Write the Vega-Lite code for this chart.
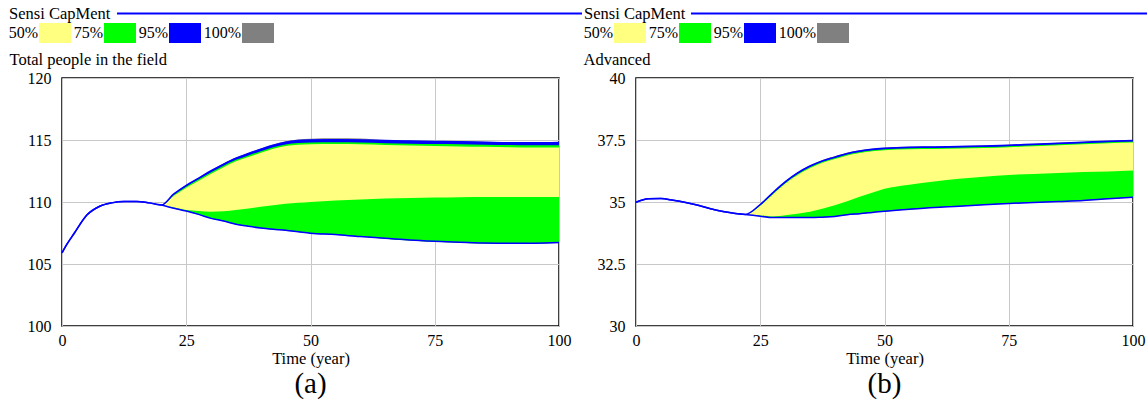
{
  "$schema": "https://vega.github.io/schema/vega-lite/v6.json",
  "padding": {"left": 8, "top": 6, "right": 0, "bottom": 0},
  "autosize": {"type": "pad"},
  "datasets": {
    "a": [
      {"t": 0, "l100": 105.9, "l95": 105.9, "l75": 105.9, "l50": 105.9, "h50": 105.9, "h75": 105.9, "h95": 105.9, "h100": 105.9},
      {"t": 1, "l100": 106.6, "l95": 106.6, "l75": 106.6, "l50": 106.6, "h50": 106.6, "h75": 106.6, "h95": 106.6, "h100": 106.6},
      {"t": 2.5, "l100": 107.5, "l95": 107.5, "l75": 107.5, "l50": 107.5, "h50": 107.5, "h75": 107.5, "h95": 107.5, "h100": 107.5},
      {"t": 5, "l100": 108.95, "l95": 108.95, "l75": 108.95, "l50": 108.95, "h50": 108.95, "h75": 108.95, "h95": 108.95, "h100": 108.95},
      {"t": 7.5, "l100": 109.64, "l95": 109.64, "l75": 109.64, "l50": 109.64, "h50": 109.64, "h75": 109.64, "h95": 109.64, "h100": 109.64},
      {"t": 10, "l100": 109.93, "l95": 109.93, "l75": 109.93, "l50": 109.93, "h50": 109.93, "h75": 109.93, "h95": 109.93, "h100": 109.93},
      {"t": 12.5, "l100": 110.04, "l95": 110.04, "l75": 110.04, "l50": 110.04, "h50": 110.04, "h75": 110.04, "h95": 110.04, "h100": 110.04},
      {"t": 15, "l100": 110.04, "l95": 110.04, "l75": 110.04, "l50": 110.04, "h50": 110.04, "h75": 110.04, "h95": 110.04, "h100": 110.04},
      {"t": 17.5, "l100": 109.93, "l95": 109.93, "l75": 109.93, "l50": 109.93, "h50": 109.93, "h75": 109.93, "h95": 109.93, "h100": 109.93},
      {"t": 20, "l100": 109.75, "l95": 109.75, "l75": 109.75, "l50": 109.75, "h50": 109.75, "h75": 109.75, "h95": 109.75, "h100": 109.75},
      {"t": 22.5, "l100": 109.48, "l95": 109.5, "l75": 109.52, "l50": 109.55, "h50": 110.5, "h75": 110.58, "h95": 110.65, "h100": 110.67},
      {"t": 25, "l100": 109.25, "l95": 109.27, "l75": 109.29, "l50": 109.35, "h50": 111.15, "h75": 111.25, "h95": 111.35, "h100": 111.38},
      {"t": 27.5, "l100": 108.98, "l95": 109.0, "l75": 109.02, "l50": 109.27, "h50": 111.72, "h75": 111.83, "h95": 111.93, "h100": 111.96},
      {"t": 30, "l100": 108.66, "l95": 108.68, "l75": 108.7, "l50": 109.21, "h50": 112.28, "h75": 112.4, "h95": 112.52, "h100": 112.56},
      {"t": 32.5, "l100": 108.45, "l95": 108.47, "l75": 108.49, "l50": 109.25, "h50": 112.8, "h75": 112.93, "h95": 113.06, "h100": 113.1},
      {"t": 35, "l100": 108.18, "l95": 108.2, "l75": 108.22, "l50": 109.35, "h50": 113.28, "h75": 113.4, "h95": 113.54, "h100": 113.58},
      {"t": 37.5, "l100": 108.02, "l95": 108.04, "l75": 108.06, "l50": 109.48, "h50": 113.63, "h75": 113.76, "h95": 113.91, "h100": 113.96},
      {"t": 40, "l100": 107.88, "l95": 107.9, "l75": 107.92, "l50": 109.61, "h50": 113.97, "h75": 114.1, "h95": 114.26, "h100": 114.31},
      {"t": 42.5, "l100": 107.78, "l95": 107.8, "l75": 107.82, "l50": 109.74, "h50": 114.3, "h75": 114.42, "h95": 114.58, "h100": 114.64},
      {"t": 45, "l100": 107.7, "l95": 107.72, "l75": 107.74, "l50": 109.85, "h50": 114.52, "h75": 114.64, "h95": 114.82, "h100": 114.9},
      {"t": 47.5, "l100": 107.58, "l95": 107.6, "l75": 107.62, "l50": 109.93, "h50": 114.62, "h75": 114.75, "h95": 114.95, "h100": 115.04},
      {"t": 50, "l100": 107.46, "l95": 107.48, "l75": 107.5, "l50": 110.0, "h50": 114.66, "h75": 114.8, "h95": 115.0, "h100": 115.1},
      {"t": 55, "l100": 107.35, "l95": 107.37, "l75": 107.39, "l50": 110.12, "h50": 114.68, "h75": 114.82, "h95": 115.02, "h100": 115.14},
      {"t": 60, "l100": 107.19, "l95": 107.21, "l75": 107.23, "l50": 110.2, "h50": 114.66, "h75": 114.8, "h95": 115.0, "h100": 115.13},
      {"t": 65, "l100": 107.03, "l95": 107.08, "l75": 107.04, "l50": 110.28, "h50": 114.6, "h75": 114.74, "h95": 114.95, "h100": 115.0},
      {"t": 70, "l100": 106.89, "l95": 106.94, "l75": 106.9, "l50": 110.33, "h50": 114.56, "h75": 114.7, "h95": 114.92, "h100": 114.96},
      {"t": 75, "l100": 106.79, "l95": 106.84, "l75": 106.8, "l50": 110.36, "h50": 114.52, "h75": 114.68, "h95": 114.88, "h100": 114.92},
      {"t": 80, "l100": 106.71, "l95": 106.76, "l75": 106.72, "l50": 110.39, "h50": 114.48, "h75": 114.66, "h95": 114.86, "h100": 114.9},
      {"t": 85, "l100": 106.65, "l95": 106.7, "l75": 106.66, "l50": 110.4, "h50": 114.45, "h75": 114.62, "h95": 114.82, "h100": 114.86},
      {"t": 90, "l100": 106.62, "l95": 106.68, "l75": 106.63, "l50": 110.4, "h50": 114.42, "h75": 114.6, "h95": 114.78, "h100": 114.82},
      {"t": 95, "l100": 106.63, "l95": 106.68, "l75": 106.64, "l50": 110.41, "h50": 114.4, "h75": 114.58, "h95": 114.77, "h100": 114.81},
      {"t": 100, "l100": 106.7, "l95": 106.73, "l75": 106.71, "l50": 110.41, "h50": 114.39, "h75": 114.57, "h95": 114.8, "h100": 114.84}
    ],
    "b": [
      {"t": 0, "l100": 34.99, "l95": 34.99, "l75": 34.99, "l50": 34.99, "h50": 34.99, "h75": 34.99, "h95": 34.99, "h100": 34.99},
      {"t": 2.5, "l100": 35.13, "l95": 35.13, "l75": 35.13, "l50": 35.13, "h50": 35.13, "h75": 35.13, "h95": 35.13, "h100": 35.13},
      {"t": 5, "l100": 35.14, "l95": 35.14, "l75": 35.14, "l50": 35.14, "h50": 35.14, "h75": 35.14, "h95": 35.14, "h100": 35.14},
      {"t": 7.5, "l100": 35.07, "l95": 35.07, "l75": 35.07, "l50": 35.07, "h50": 35.07, "h75": 35.07, "h95": 35.07, "h100": 35.07},
      {"t": 10, "l100": 34.98, "l95": 34.98, "l75": 34.98, "l50": 34.98, "h50": 34.98, "h75": 34.98, "h95": 34.98, "h100": 34.98},
      {"t": 12.5, "l100": 34.87, "l95": 34.87, "l75": 34.87, "l50": 34.87, "h50": 34.87, "h75": 34.87, "h95": 34.87, "h100": 34.87},
      {"t": 15, "l100": 34.73, "l95": 34.73, "l75": 34.73, "l50": 34.73, "h50": 34.73, "h75": 34.73, "h95": 34.73, "h100": 34.73},
      {"t": 17.5, "l100": 34.62, "l95": 34.62, "l75": 34.62, "l50": 34.62, "h50": 34.62, "h75": 34.62, "h95": 34.62, "h100": 34.62},
      {"t": 20, "l100": 34.54, "l95": 34.54, "l75": 34.54, "l50": 34.54, "h50": 34.54, "h75": 34.54, "h95": 34.54, "h100": 34.54},
      {"t": 22, "l100": 34.5, "l95": 34.5, "l75": 34.5, "l50": 34.5, "h50": 34.5, "h75": 34.5, "h95": 34.5, "h100": 34.5},
      {"t": 25, "l100": 34.42, "l95": 34.43, "l75": 34.44, "l50": 34.46, "h50": 34.85, "h75": 34.87, "h95": 34.9, "h100": 34.91},
      {"t": 27.5, "l100": 34.36, "l95": 34.37, "l75": 34.38, "l50": 34.42, "h50": 35.3, "h75": 35.33, "h95": 35.37, "h100": 35.38},
      {"t": 30, "l100": 34.36, "l95": 34.37, "l75": 34.38, "l50": 34.47, "h50": 35.74, "h75": 35.77, "h95": 35.81, "h100": 35.83},
      {"t": 32.5, "l100": 34.36, "l95": 34.37, "l75": 34.38, "l50": 34.53, "h50": 36.09, "h75": 36.13, "h95": 36.17, "h100": 36.19},
      {"t": 35, "l100": 34.36, "l95": 34.37, "l75": 34.38, "l50": 34.61, "h50": 36.37, "h75": 36.41, "h95": 36.45, "h100": 36.47},
      {"t": 37.5, "l100": 34.38, "l95": 34.39, "l75": 34.4, "l50": 34.73, "h50": 36.58, "h75": 36.62, "h95": 36.66, "h100": 36.69},
      {"t": 40, "l100": 34.41, "l95": 34.42, "l75": 34.43, "l50": 34.87, "h50": 36.73, "h75": 36.77, "h95": 36.81, "h100": 36.84},
      {"t": 42.5, "l100": 34.48, "l95": 34.49, "l75": 34.5, "l50": 35.03, "h50": 36.88, "h75": 36.92, "h95": 36.96, "h100": 36.99},
      {"t": 45, "l100": 34.52, "l95": 34.53, "l75": 34.54, "l50": 35.21, "h50": 36.98, "h75": 37.02, "h95": 37.06, "h100": 37.09},
      {"t": 47.5, "l100": 34.57, "l95": 34.58, "l75": 34.59, "l50": 35.37, "h50": 37.05, "h75": 37.09, "h95": 37.13, "h100": 37.15},
      {"t": 50, "l100": 34.62, "l95": 34.63, "l75": 34.64, "l50": 35.53, "h50": 37.09, "h75": 37.13, "h95": 37.17, "h100": 37.19},
      {"t": 55, "l100": 34.7, "l95": 34.71, "l75": 34.72, "l50": 35.7, "h50": 37.13, "h75": 37.17, "h95": 37.21, "h100": 37.23},
      {"t": 60, "l100": 34.77, "l95": 34.78, "l75": 34.79, "l50": 35.83, "h50": 37.14, "h75": 37.18, "h95": 37.22, "h100": 37.24},
      {"t": 65, "l100": 34.82, "l95": 34.83, "l75": 34.84, "l50": 35.94, "h50": 37.16, "h75": 37.2, "h95": 37.24, "h100": 37.26},
      {"t": 70, "l100": 34.88, "l95": 34.89, "l75": 34.9, "l50": 36.02, "h50": 37.18, "h75": 37.22, "h95": 37.26, "h100": 37.28},
      {"t": 75, "l100": 34.93, "l95": 34.94, "l75": 34.95, "l50": 36.09, "h50": 37.21, "h75": 37.25, "h95": 37.29, "h100": 37.31},
      {"t": 80, "l100": 34.97, "l95": 34.98, "l75": 34.99, "l50": 36.13, "h50": 37.25, "h75": 37.29, "h95": 37.33, "h100": 37.35},
      {"t": 85, "l100": 35.01, "l95": 35.02, "l75": 35.03, "l50": 36.17, "h50": 37.29, "h75": 37.33, "h95": 37.37, "h100": 37.39},
      {"t": 90, "l100": 35.05, "l95": 35.06, "l75": 35.07, "l50": 36.21, "h50": 37.33, "h75": 37.37, "h95": 37.41, "h100": 37.43},
      {"t": 95, "l100": 35.12, "l95": 35.13, "l75": 35.14, "l50": 36.23, "h50": 37.37, "h75": 37.41, "h95": 37.45, "h100": 37.47},
      {"t": 100, "l100": 35.18, "l95": 35.19, "l75": 35.2, "l50": 36.27, "h50": 37.4, "h75": 37.44, "h95": 37.48, "h100": 37.5}
    ]
  },
  "hconcat": [
    {
      "width": 497, "height": 248,
      "data": {"name": "a"},
      "title": {"text": "(a)", "orient": "bottom", "anchor": "middle", "fontSize": 29, "fontWeight": "normal", "font": "Liberation Serif", "offset": 3},
      "encoding": {"x": {"field": "t", "type": "quantitative", "scale": {"domain": [0, 100], "nice": false}, "axis": {"values": [0, 25, 50, 75, 100], "title": "Time (year)"}}},
      "layer": [
        {"mark": {"type": "area", "interpolate": "monotone", "opacity": 1},
         "encoding": {
           "y": {"field": "l100", "type": "quantitative", "scale": {"domain": [100, 120], "nice": false}, "axis": {"values": [100, 105, 110, 115, 120], "format": ".1~f", "title": "Total people in the field"}},
           "y2": {"field": "h100"},
           "fill": {"datum": "100%", "type": "nominal", "scale": {"domain": ["50%", "75%", "95%", "100%"], "range": ["#ffff80", "#00ff00", "#0000ff", "#808080"]},
             "legend": {"orient": "none", "legendX": -23, "legendY": -55, "title": null, "direction": "horizontal", "symbolType": "M-1.6,-1H1.6V1H-1.6Z", "symbolSize": 400, "symbolOffset": 6, "labelAlign": "right", "labelOffset": -27, "labelFontSize": 16, "labelFont": "Liberation Serif", "labelColor": "#000000", "columnPadding": 2, "symbolStrokeWidth": 0, "symbolOpacity": 1, "padding": 0}}
         }},
        {"mark": {"type": "area", "interpolate": "monotone", "opacity": 1}, "encoding": {"y": {"field": "l95", "type": "quantitative"}, "y2": {"field": "h95"}, "fill": {"datum": "95%", "type": "nominal"}}},
        {"mark": {"type": "area", "interpolate": "monotone", "opacity": 1}, "encoding": {"y": {"field": "l75", "type": "quantitative"}, "y2": {"field": "h75"}, "fill": {"datum": "75%", "type": "nominal"}}},
        {"mark": {"type": "area", "interpolate": "monotone", "opacity": 1}, "encoding": {"y": {"field": "l50", "type": "quantitative"}, "y2": {"field": "h50"}, "fill": {"datum": "50%", "type": "nominal"}}},
        {"mark": {"type": "line", "interpolate": "monotone", "strokeWidth": 1.5},
         "encoding": {"y": {"field": "l95", "type": "quantitative"},
           "stroke": {"datum": "Sensi CapMent", "type": "nominal", "scale": {"range": ["#0000ff"]},
             "legend": {"orient": "none", "legendX": -53, "legendY": -71, "title": "Sensi CapMent", "titleOrient": "left", "titleFontSize": 16.5, "titleFontWeight": "normal", "titleFont": "Liberation Serif", "titleColor": "#000000", "titlePadding": 5, "symbolType": "stroke", "symbolSize": 216225, "symbolStrokeWidth": 2, "labelExpr": "''", "clipHeight": 13, "padding": 0}}}},
        {"mark": {"type": "line", "interpolate": "monotone", "strokeWidth": 1.5}, "encoding": {"y": {"field": "h95", "type": "quantitative"}, "stroke": {"datum": "Sensi CapMent", "type": "nominal"}}}
      ]
    },
    {
      "width": 497, "height": 248,
      "data": {"name": "b"},
      "title": {"text": "(b)", "orient": "bottom", "anchor": "middle", "fontSize": 29, "fontWeight": "normal", "font": "Liberation Serif", "offset": 3},
      "encoding": {"x": {"field": "t", "type": "quantitative", "scale": {"domain": [0, 100], "nice": false}, "axis": {"values": [0, 25, 50, 75, 100], "title": "Time (year)"}}},
      "layer": [
        {"mark": {"type": "area", "interpolate": "monotone", "opacity": 1},
         "encoding": {
           "y": {"field": "l100", "type": "quantitative", "scale": {"domain": [30, 40], "nice": false}, "axis": {"values": [30, 32.5, 35, 37.5, 40], "format": ".1~f", "title": "Advanced"}},
           "y2": {"field": "h100"},
           "fill": {"datum": "100%", "type": "nominal", "scale": {"domain": ["50%", "75%", "95%", "100%"], "range": ["#ffff80", "#00ff00", "#0000ff", "#808080"]},
             "legend": {"orient": "none", "legendX": -22, "legendY": -55, "title": null, "direction": "horizontal", "symbolType": "M-1.6,-1H1.6V1H-1.6Z", "symbolSize": 400, "symbolOffset": 6, "labelAlign": "right", "labelOffset": -27, "labelFontSize": 16, "labelFont": "Liberation Serif", "labelColor": "#000000", "columnPadding": 2, "symbolStrokeWidth": 0, "symbolOpacity": 1, "padding": 0}}
         }},
        {"mark": {"type": "area", "interpolate": "monotone", "opacity": 1}, "encoding": {"y": {"field": "l95", "type": "quantitative"}, "y2": {"field": "h95"}, "fill": {"datum": "95%", "type": "nominal"}}},
        {"mark": {"type": "area", "interpolate": "monotone", "opacity": 1}, "encoding": {"y": {"field": "l75", "type": "quantitative"}, "y2": {"field": "h75"}, "fill": {"datum": "75%", "type": "nominal"}}},
        {"mark": {"type": "area", "interpolate": "monotone", "opacity": 1}, "encoding": {"y": {"field": "l50", "type": "quantitative"}, "y2": {"field": "h50"}, "fill": {"datum": "50%", "type": "nominal"}}},
        {"mark": {"type": "line", "interpolate": "monotone", "strokeWidth": 1.5},
         "encoding": {"y": {"field": "l95", "type": "quantitative"},
           "stroke": {"datum": "Sensi CapMent", "type": "nominal", "scale": {"range": ["#0000ff"]},
             "legend": {"orient": "none", "legendX": -52, "legendY": -71, "title": "Sensi CapMent", "titleOrient": "left", "titleFontSize": 16.5, "titleFontWeight": "normal", "titleFont": "Liberation Serif", "titleColor": "#000000", "titlePadding": 4, "symbolType": "stroke", "symbolSize": 211600, "symbolStrokeWidth": 2, "labelExpr": "''", "clipHeight": 13, "padding": 0}}}},
        {"mark": {"type": "line", "interpolate": "monotone", "strokeWidth": 1.5}, "encoding": {"y": {"field": "h95", "type": "quantitative"}, "stroke": {"datum": "Sensi CapMent", "type": "nominal"}}}
      ]
    }
  ],
  "spacing": 77,
  "bounds": "flush",
  "resolve": {
    "scale": {"x": "independent", "y": "independent", "fill": "independent", "stroke": "independent"},
    "legend": {"fill": "independent", "stroke": "independent"}
  },
  "config": {
    "font": "Liberation Serif",
    "background": "#ffffff",
    "view": {"stroke": "#000000", "strokeWidth": 1.5},
    "axis": {"domain": false, "ticks": false, "grid": true, "gridColor": "#c8c8c8", "gridWidth": 1, "labelFont": "Liberation Serif", "labelFontSize": 16, "labelColor": "#000000", "titleFont": "Liberation Serif", "titleFontSize": 16.5, "titleFontWeight": "normal", "titleColor": "#000000", "labelFlush": false, "labelOverlap": false},
    "axisX": {"labelPadding": 6, "titlePadding": 2},
    "axisY": {"labelPadding": 11, "titleAngle": 0, "titleAlign": "left", "titleBaseline": "alphabetic", "titleX": -53, "titleY": -14}
  }
}
